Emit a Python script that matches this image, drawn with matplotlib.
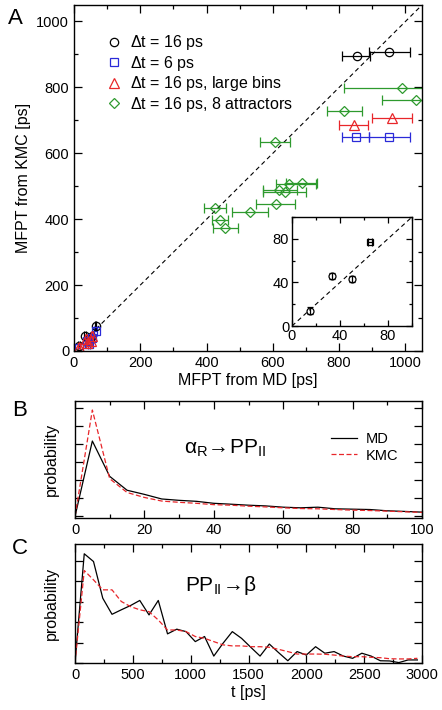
import numpy as np
import matplotlib
matplotlib.use("Agg")
import matplotlib.pyplot as plt
from matplotlib.ticker import MultipleLocator, NullFormatter

plt.rcParams['font.family'] = ['Liberation Sans', 'DejaVu Sans']
plt.rcParams['mathtext.fontset'] = 'custom'
plt.rcParams['mathtext.rm'] = 'Liberation Sans'
plt.rcParams['mathtext.it'] = 'Liberation Sans'

# ---- panel A data: MFPT MD vs KMC
black_x = [15, 33, 50, 65, 853, 950]
black_y = [14, 46, 43, 77, 894, 907]
black_xerr_lo = [2, 2, 2, 2, 45, 59]
black_xerr_hi = [2, 2, 2, 2, 40, 64]

blue_x = [15, 38, 45, 55, 65, 851, 950]
blue_y = [10, 30, 20, 40, 60, 649, 649]
blue_xerr_lo = [3, 4, 4, 4, 4, 43, 59]
blue_xerr_hi = [3, 4, 4, 4, 4, 39, 64]

red_x = [15, 35, 40, 50, 55, 845, 958]
red_y = [12, 35, 25, 30, 45, 685, 708]
red_xerr_lo = [3, 3, 3, 3, 3, 45, 60]
red_xerr_hi = [3, 3, 3, 3, 3, 43, 61]

green_x = [990, 1031, 815, 606, 687, 650, 619, 637, 608, 531, 425, 441, 456]
green_y = [798, 761, 728, 634, 511, 508, 490, 483, 447, 422, 435, 397, 372]
green_xerr_lo = [176, 101, 53, 45, 46, 42, 50, 66, 60, 53, 33, 25, 38]
green_xerr_hi = [80, 70, 53, 46, 47, 80, 55, 63, 60, 54, 33, 25, 40]

# inset (zoom near origin)
ins_cx = [15, 33, 50]
ins_cy = [14, 46, 43]
ins_cyerr = [3, 3, 3]
ins_sx = [65]
ins_sy = [77]
ins_sxerr = [2]

# ---- panel B: alpha_R -> PP_II
tB = [0, 5, 10, 15, 20, 25, 30, 35, 40, 45, 50, 55, 60, 65, 70, 75, 80, 85, 90, 95, 100]
mdB = [0.0, 0.0836, 0.0444, 0.029, 0.0244, 0.0193, 0.0178, 0.0167, 0.0145, 0.0135, 0.0124,
       0.0116, 0.0102, 0.0095, 0.0102, 0.0084, 0.008, 0.0076, 0.0062, 0.0055, 0.0047]
kmcB = [0.0, 0.118, 0.0418, 0.0265, 0.021, 0.017, 0.0156, 0.0145, 0.013, 0.0124, 0.0113,
        0.0105, 0.0095, 0.0087, 0.0084, 0.0076, 0.0069, 0.0065, 0.0058, 0.0051, 0.0044]

# ---- panel C: PP_II -> beta
tC = [0, 80, 160, 240, 320, 400, 480, 560, 640, 720, 800, 880, 960, 1040, 1120, 1200, 1280,
      1360, 1440, 1520, 1600, 1680, 1760, 1840, 1920, 2000, 2080, 2160, 2240, 2320, 2400,
      2480, 2560, 2640, 2720, 2800, 2880, 2960]
mdC = [0.0, 5.36, 4.98, 3.18, 2.39, 2.61, 2.82, 3.07, 2.36, 3.07, 1.43, 1.66, 1.54, 1.05,
       1.30, 0.34, 0.97, 1.54, 1.21, 0.77, 0.34, 0.93, 0.51, 0.11, 0.56, 0.39, 0.80, 0.48,
       0.56, 0.34, 0.23, 0.48, 0.34, 0.11, 0.10, 0.02, 0.15, 0.15]
kmcC = [0.0, 4.54, 4.08, 3.59, 3.59, 3.02, 2.77, 2.61, 2.52, 2.11, 1.62, 1.62, 1.54, 1.30,
        1.21, 1.05, 0.89, 0.84, 0.84, 0.80, 0.80, 0.77, 0.67, 0.56, 0.44, 0.44, 0.44, 0.43,
        0.39, 0.34, 0.31, 0.31, 0.28, 0.26, 0.21, 0.20, 0.20, 0.23]
mdC = [v * 0.01 for v in mdC]
kmcC = [v * 0.01 for v in kmcC]

BLACK = 'black'
BLUE = '#2a2ad8'
RED = '#e8262a'
GREEN = '#2e9a2e'


def style_ax(ax):
  ax.tick_params(which='both', direction='in', top=True, right=True, labelsize=10.5)
  ax.tick_params(which='major', length=6, width=0.9)
  ax.tick_params(which='minor', length=3, width=0.9)
  for s in ax.spines.values():
    s.set_linewidth(1.0)


fig = plt.figure(figsize=(4.42, 7.10), dpi=100)
W, H = 442.0, 710.0

def px_axes(l, t, r, b):
  return fig.add_axes([l / W, 1 - b / H, (r - l) / W, (b - t) / H])

# ---- panel A
ax1 = px_axes(74, 5, 422, 351)
ax1.plot([0, 1050], [0, 1050], color='black', linestyle='--', linewidth=0.8, dashes=(4, 3))
ek = dict(capsize=3.5, elinewidth=0.9, capthick=0.9, linestyle='none', mfc='none', ms=6, mew=0.9)
ax1.errorbar(black_x, black_y, xerr=[black_xerr_lo, black_xerr_hi], marker='o', color=BLACK,
             label=r'$\Delta$t = 16 ps', **ek)
ax1.errorbar(blue_x, blue_y, xerr=[blue_xerr_lo, blue_xerr_hi], marker='s', color=BLUE,
             label=r'$\Delta$t = 6 ps', **dict(ek, ms=5.5))
ax1.errorbar(red_x, red_y, xerr=[red_xerr_lo, red_xerr_hi], marker='^', color=RED,
             label=r'$\Delta$t = 16 ps, large bins', **dict(ek, ms=7))
ax1.errorbar(green_x, green_y, xerr=[green_xerr_lo, green_xerr_hi], marker='D', color=GREEN,
             label=r'$\Delta$t = 16 ps, 8 attractors', **dict(ek, ms=4.8))
ax1.set_xlim(0, 1050)
ax1.set_ylim(0, 1050)
ax1.xaxis.set_major_locator(MultipleLocator(200))
ax1.xaxis.set_minor_locator(MultipleLocator(100))
ax1.yaxis.set_major_locator(MultipleLocator(200))
ax1.yaxis.set_minor_locator(MultipleLocator(100))
style_ax(ax1)
ax1.set_xlabel('MFPT from MD [ps]', fontsize=11.5, labelpad=2)
ax1.set_ylabel('MFPT from KMC [ps]', fontsize=11.5, labelpad=4)
handles, labels = ax1.get_legend_handles_labels()
handles = [h[0] for h in handles]
ax1.legend(handles, labels, loc='upper left', bbox_to_anchor=(0.05, 0.96), frameon=False,
           fontsize=11.5, handletextpad=0.5, labelspacing=0.1, handlelength=1.0)

# inset
axi = px_axes(292, 217, 412, 326)
axi.plot([0, 100], [0, 100], color='black', linestyle='--', linewidth=0.8, dashes=(4, 3))
axi.errorbar(ins_cx, ins_cy, yerr=ins_cyerr, marker='o', color=BLACK,
             **dict(ek, capsize=2, ms=5))
axi.errorbar(ins_sx, ins_sy, xerr=ins_sxerr, marker='s', color=BLACK,
             **dict(ek, capsize=3, ms=4.5))
axi.set_xlim(0, 100)
axi.set_ylim(0, 100)
axi.xaxis.set_major_locator(MultipleLocator(40))
axi.xaxis.set_minor_locator(MultipleLocator(20))
axi.yaxis.set_major_locator(MultipleLocator(40))
axi.yaxis.set_minor_locator(MultipleLocator(20))
style_ax(axi)
axi.tick_params(which='major', length=4)
axi.tick_params(which='minor', length=2)
axi.tick_params(axis='both', pad=2)

# ---- panel B
ax2 = px_axes(75, 401, 422, 518)
ax2.plot(tB, mdB, color='black', linewidth=0.9, label='MD')
ax2.plot(tB, kmcB, color=RED, linewidth=0.9, linestyle='--', dashes=(4, 2), label='KMC')
ax2.set_xlim(0, 100)
ax2.set_ylim(-0.0018, 0.128)
ax2.xaxis.set_major_locator(MultipleLocator(20))
ax2.xaxis.set_minor_locator(MultipleLocator(10))
ax2.yaxis.set_major_locator(MultipleLocator(0.02))
ax2.yaxis.set_major_formatter(NullFormatter())
style_ax(ax2)
ax2.set_ylabel('probability', fontsize=11.5, labelpad=8)
ax2.legend(loc='upper left', bbox_to_anchor=(0.7, 0.85), frameon=False, fontsize=10.5,
           handlelength=1.8, handletextpad=0.6, labelspacing=0.2)
ax2.text(31.5, 0.075, r'$\alpha_{\rm R}\!\rightarrow\!{\rm PP}_{\rm II}$', fontsize=15,
         ha='left', va='center')

# ---- panel C
ax3 = px_axes(75, 544, 422, 663)
ax3.plot(tC, mdC, color='black', linewidth=0.9)
ax3.plot(tC, kmcC, color=RED, linewidth=0.9, linestyle='--', dashes=(4, 2))
ax3.set_xlim(0, 3000)
ax3.set_ylim(0, 0.0584)
ax3.xaxis.set_major_locator(MultipleLocator(500))
ax3.xaxis.set_minor_locator(MultipleLocator(250))
ax3.yaxis.set_major_locator(MultipleLocator(0.01))
ax3.yaxis.set_major_formatter(NullFormatter())
style_ax(ax3)
ax3.set_ylabel('probability', fontsize=11.5, labelpad=8)
ax3.set_xlabel('t [ps]', fontsize=11.5, labelpad=2)
ax3.text(955, 0.038, r'${\rm PP}_{\rm II}\!\rightarrow\!\beta$', fontsize=15,
         ha='left', va='center')

# panel letters
fig.text(8 / W, 1 - 18 / H, 'A', fontsize=16, va='center', ha='left')
fig.text(12 / W, 1 - 410 / H, 'B', fontsize=16, va='center', ha='left')
fig.text(12 / W, 1 - 548 / H, 'C', fontsize=16, va='center', ha='left')

fig.savefig('out.png', dpi=100)
